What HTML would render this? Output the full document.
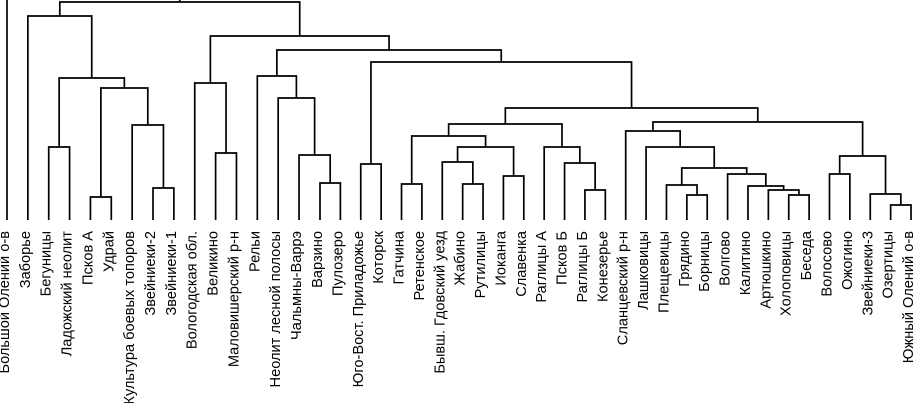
<!DOCTYPE html>
<html><head><meta charset="utf-8">
<style>
html,body{margin:0;padding:0;background:#fff;}
svg{display:block;}
text{font-family:"Liberation Sans",Arial,sans-serif;font-size:14.6px;fill:#000;}
</style></head>
<body>
<svg id="chart" width="918" height="403" viewBox="0 0 918 403" xmlns="http://www.w3.org/2000/svg">
<g id="links"></g>
<g id="labels"></g>
</svg>
<script>
const leafLabels = ["Большой Олений о-в","Заборье","Бегуницы","Ладожский неолит","Псков А","Удрай","Культура боевых топоров","Звейниеки-2","Звейниеки-1","Вологодская обл.","Великино","Маловишерский р-н","Рельи","Неолит лесной полосы","Чальмны-Варрэ","Варзино","Пулозеро","Юго-Вост. Приладожье","Которск","Гатчина","Ретенское","Бывш. Гдовский уезд","Жабино","Рутилицы","Иоканга","Славенка","Раглицы А","Псков Б","Раглицы Б","Конезерье","Сланцевский р-н","Лашковицы","Плещевицы","Грядино","Борницы","Волгово","Калитино","Артюшкино","Холоповицы","Беседа","Волосово","Ожогино","Звейниеки-3","Озертицы","Южный Олений о-в"];
// merges: [childA, childB, height]; leaves are 0..44, merged nodes are "n"+index
const merges = [
 [2,3,147],[4,5,197],[7,8,188],[6,"n2",125],["n1","n3",88],["n0","n4",78],[1,"n5",16],
 [10,11,153],[9,"n7",83],
 [15,16,183],[14,"n9",155],[13,"n10",98],[12,"n11",76],
 [17,18,164],
 [19,20,184],[22,23,184],[21,"n15",162],[24,25,176],["n16","n17",147],["n14","n18",136],
 [28,29,190],[27,"n20",163],[26,"n21",147],["n19","n22",124],
 [33,34,195],[32,"n24",185],[38,39,195],[37,"n26",190],[36,"n27",186],[35,"n28",174],["n25","n29",168],[31,"n30",147],[30,"n31",131],
 [40,41,174],[43,44,205],[42,"n34",194],["n33","n35",156],["n32","n36",122],
 ["n23","n37",108],["n13","n38",62],["n12","n39",50],["n8","n40",36],["n6","n41",2],[0,"n42",-3]
];
const leafBottom = 220;
function xScale(i){ return i<15 ? 7+20.86*i : 320+20.38*(i-15); }
const svg = document.getElementById('links');
const lab = document.getElementById('labels');
const NS = "http://www.w3.org/2000/svg";
const pos = {};
leafLabels.forEach((name,i)=>{ pos[i] = {x:xScale(i), y:leafBottom}; });
function P(k){ return pos[k]; }
merges.forEach((m,j)=>{
  const a=P(m[0]), b=P(m[1]), h=m[2];
  const p=document.createElementNS(NS,'path');
  p.setAttribute('d',`M${a.x},${a.y}V${h}H${b.x}V${b.y}`);
  p.setAttribute('fill','none');p.setAttribute('stroke','#000');p.setAttribute('stroke-width','1.7');
  
  
  svg.appendChild(p);
  pos["n"+j]={x:(a.x+b.x)/2,y:h};
});
leafLabels.forEach((name,i)=>{
  const x=xScale(i)-2, y=231;
  const t=document.createElementNS(NS,'text');
  t.setAttribute('transform',`translate(${x},${y}) rotate(-90)`);
  t.setAttribute('text-anchor','end');
  t.setAttribute('dominant-baseline','central');
  t.textContent=name;
  
  
  lab.appendChild(t);
});
</script>
</body></html>
